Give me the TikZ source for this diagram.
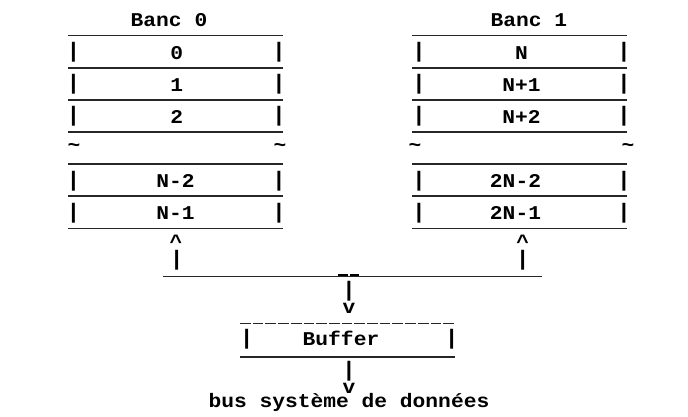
\documentclass[tikz,border=0pt]{standalone}
\usepackage{fontspec}
\newfontfamily\asc{Liberation Mono}[FakeStretch=1.09]
\begin{document}
\begin{tikzpicture}[x=1pt,y=-1pt,
  txt/.style={font=\asc\bfseries\fontsize{19.5}{20}\selectfont, inner sep=0pt, anchor=base},
  glyph/.style={font=\asc\bfseries\fontsize{19.5}{20}\selectfont, inner sep=0pt, anchor=center},
  bar/.style={font=\asc\bfseries\fontsize{21}{21}\selectfont, inner sep=0pt, anchor=center},
  rule/.style={line width=1.6pt, black!85},
]
\useasboundingbox (0,0) rectangle (688,417);
% titles
\node[txt] (t0) at (169,26.7) {Banc 0};
\node[txt] (t1) at (528.8,26.7) {Banc 1};
% horizontal rules of the banks
\foreach \yy in {35.7,67.8,99.9,132,164.1,196.2,228.3}{
  \draw[rule] (68,\yy) -- (283,\yy);
  \draw[rule] (412,\yy) -- (627,\yy);
}
% side bars
\foreach \yy/\nm in {52.5/a,84.6/b,116.7/c,180.9/d,213/e}{
  \node[bar] (l\nm L) at (73.5,\yy) {|};
  \node[bar] (l\nm R) at (279,\yy) {|};
  \node[bar] (r\nm L) at (419,\yy) {|};
  \node[bar] (r\nm R) at (624,\yy) {|};
}
% labels left
\node[txt] (c0) at (176.7,59.3) {0};
\node[txt] (c1) at (176.7,91.4) {1};
\node[txt] (c2) at (176.7,123.5) {2};
\node[txt] (cn2) at (175.5,187.7) {N-2};
\node[txt] (cn1) at (175.5,219.8) {N-1};
% labels right
\node[txt] (d0) at (521.5,59.3) {N};
\node[txt] (d1) at (521.5,91.4) {N+1};
\node[txt] (d2) at (521.5,123.5) {N+2};
\node[txt] (dn2) at (515.5,187.7) {2N-2};
\node[txt] (dn1) at (515.5,219.8) {2N-1};
% tildes
\node[glyph] (tl1) at (74,148) {\char"7E};
\node[glyph] (tl2) at (280,148) {\char"7E};
\node[glyph] (tr1) at (415,148) {\char"7E};
\node[glyph] (tr2) at (628,148) {\char"7E};
% up arrows
\node[glyph] (ul) at (176,241.5) {\char"5E};
\node[glyph] (ur) at (522.7,241.5) {\char"5E};
\node[bar] (ulb) at (176.7,260.5) {|};
\node[bar] (urb) at (522.7,260.5) {|};
% bus line
\draw[rule] (163,276.3) -- (542,276.3);
\draw[line width=2pt] (338,274.6) -- (348,274.6) (349.5,274.6) -- (359,274.6);
% down arrow to buffer
\node[bar] (db1) at (349,291) {|};
\node[glyph] (dv1) at (349,308) {v};
% buffer box
\draw[rule, dash pattern=on 10.7pt off 2pt] (240,323.3) -- (455,323.3);
\draw[rule] (240,356.7) -- (455,356.7);
\node[bar] (bfL) at (246.7,339.5) {|};
\node[bar] (bfR) at (451.7,339.5) {|};
\node[txt] (buf) at (341,345.7) {Buffer};
% down arrow to bus
\node[bar] (db2) at (349,371) {|};
\node[glyph] (dv2) at (349,388) {v};
\node[txt] (bus) at (349,407.5) {bus système de données};
\end{tikzpicture}
\end{document}
